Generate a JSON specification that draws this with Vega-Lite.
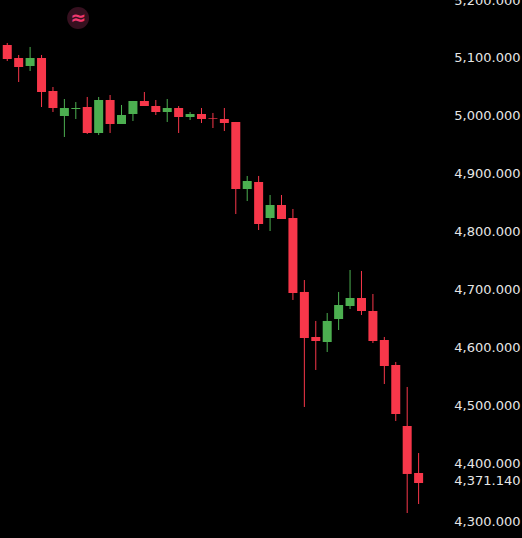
{
  "$schema": "https://vega.github.io/schema/vega-lite/v6.json",
  "width": 522,
  "height": 538,
  "padding": 0,
  "autosize": "none",
  "background": "#000000",
  "title": {
    "text": "GOLD",
    "anchor": "start",
    "frame": "group",
    "orient": "top",
    "offset": 0,
    "dx": 4,
    "dy": 26,
    "baseline": "alphabetic",
    "font": "Roboto",
    "fontSize": 20,
    "fontWeight": 500,
    "color": "#ffffff"
  },
  "datasets": {
    "candles": [
      {"i": 0, "open": 5122.4, "close": 5098.3, "high": 5125.9, "low": 5094.8, "dir": "down"},
      {"i": 1, "open": 5100, "close": 5084.5, "high": 5105.2, "low": 5058.6, "dir": "down"},
      {"i": 2, "open": 5086.2, "close": 5100, "high": 5119, "low": 5077.6, "dir": "up"},
      {"i": 3, "open": 5100, "close": 5041.4, "high": 5105.2, "low": 5015.5, "dir": "down"},
      {"i": 4, "open": 5043.1, "close": 5013.8, "high": 5050, "low": 5006.9, "dir": "down"},
      {"i": 5, "open": 5000, "close": 5013.8, "high": 5029.3, "low": 4963.8, "dir": "up"},
      {"i": 6, "open": 5012.1, "close": 5013.8, "high": 5024.1, "low": 4994.8, "dir": "up"},
      {"i": 7, "open": 5015.5, "close": 4970.7, "high": 5032.8, "low": 4969, "dir": "down"},
      {"i": 8, "open": 4970.7, "close": 5027.6, "high": 5032.8, "low": 4967.2, "dir": "up"},
      {"i": 9, "open": 5027.6, "close": 4986.2, "high": 5036.2, "low": 4970.7, "dir": "down"},
      {"i": 10, "open": 4986.2, "close": 5001.7, "high": 5019, "low": 4986.2, "dir": "up"},
      {"i": 11, "open": 5003.4, "close": 5025.9, "high": 5025.9, "low": 4991.4, "dir": "up"},
      {"i": 12, "open": 5025.9, "close": 5017.2, "high": 5041.4, "low": 5017.2, "dir": "down"},
      {"i": 13, "open": 5017.2, "close": 5006.9, "high": 5027.6, "low": 5001.7, "dir": "down"},
      {"i": 14, "open": 5006.9, "close": 5013.8, "high": 5029.3, "low": 4989.7, "dir": "up"},
      {"i": 15, "open": 5013.8, "close": 4998.3, "high": 5017.2, "low": 4970.7, "dir": "down"},
      {"i": 16, "open": 4998.3, "close": 5003.4, "high": 5006.9, "low": 4993.1, "dir": "up"},
      {"i": 17, "open": 5003.4, "close": 4994.8, "high": 5013.8, "low": 4987.9, "dir": "down"},
      {"i": 18, "open": 4996.6, "close": 4995.4, "high": 5005.2, "low": 4979.3, "dir": "down"},
      {"i": 19, "open": 4994.8, "close": 4987.9, "high": 5013.8, "low": 4974.1, "dir": "down"},
      {"i": 20, "open": 4989.7, "close": 4874.1, "high": 4989.7, "low": 4831, "dir": "down"},
      {"i": 21, "open": 4874.1, "close": 4887.9, "high": 4896.6, "low": 4853.4, "dir": "up"},
      {"i": 22, "open": 4886.2, "close": 4813.8, "high": 4896.6, "low": 4803.4, "dir": "down"},
      {"i": 23, "open": 4824.1, "close": 4846.6, "high": 4863.8, "low": 4801.7, "dir": "up"},
      {"i": 24, "open": 4846.6, "close": 4822.4, "high": 4863.8, "low": 4822.4, "dir": "down"},
      {"i": 25, "open": 4824.1, "close": 4694.8, "high": 4839.7, "low": 4682.8, "dir": "down"},
      {"i": 26, "open": 4696.6, "close": 4617.2, "high": 4717.2, "low": 4498.3, "dir": "down"},
      {"i": 27, "open": 4619, "close": 4612.1, "high": 4646.6, "low": 4562.1, "dir": "down"},
      {"i": 28, "open": 4610.3, "close": 4646.6, "high": 4660.3, "low": 4593.1, "dir": "up"},
      {"i": 29, "open": 4650, "close": 4674.1, "high": 4696.6, "low": 4631, "dir": "up"},
      {"i": 30, "open": 4672.4, "close": 4686.2, "high": 4734.5, "low": 4667.2, "dir": "up"},
      {"i": 31, "open": 4686.2, "close": 4663.8, "high": 4732.8, "low": 4656.9, "dir": "down"},
      {"i": 32, "open": 4663.8, "close": 4612.1, "high": 4693.1, "low": 4608.6, "dir": "down"},
      {"i": 33, "open": 4613.8, "close": 4569, "high": 4619, "low": 4537.9, "dir": "down"},
      {"i": 34, "open": 4570.7, "close": 4486.2, "high": 4575.9, "low": 4474.1, "dir": "down"},
      {"i": 35, "open": 4465.5, "close": 4382.8, "high": 4532.8, "low": 4315.5, "dir": "down"},
      {"i": 36, "open": 4384.5, "close": 4367.2, "high": 4418.9, "low": 4331, "dir": "down"}
    ],
    "badge": [{"i": 6.2, "price": 5169, "glyph": "≈"}]
  },
  "encoding": {
    "x": {
      "field": "i",
      "type": "quantitative",
      "scale": {"domain": [-0.197, 44.61], "nice": false, "zero": false},
      "axis": null
    }
  },
  "layer": [
    {
      "data": {"name": "candles"},
      "mark": {"type": "rule", "strokeWidth": 1},
      "encoding": {
        "y": {
          "field": "low",
          "type": "quantitative",
          "scale": {"domain": [4272.4, 5200], "nice": false, "zero": false},
          "axis": {
            "orient": "right",
            "title": null,
            "values": [5200, 5100, 5000, 4900, 4800, 4700, 4600, 4500, 4400, 4371.14, 4300],
            "format": ",.3f",
            "domain": false,
            "ticks": false,
            "grid": false,
            "labelAlign": "right",
            "labelPadding": -2,
            "labelOverlap": false,
            "labelBound": false,
            "labelFlush": false,
            "labelFont": "DejaVu Sans",
            "labelFontSize": 13,
            "labelColor": "#e6e6e6"
          }
        },
        "y2": {"field": "high"},
        "color": {
          "field": "dir",
          "type": "nominal",
          "scale": {"domain": ["up", "down"], "range": ["#4caf50", "#f7374a"]},
          "legend": null
        }
      }
    },
    {
      "data": {"name": "candles"},
      "mark": {"type": "bar", "size": 9, "orient": "vertical"},
      "encoding": {
        "y": {"field": "open", "type": "quantitative"},
        "y2": {"field": "close"},
        "color": {"field": "dir", "type": "nominal"}
      }
    },
    {
      "data": {"name": "badge"},
      "mark": {"type": "point", "filled": true, "size": 480, "opacity": 1, "color": "#36101f"},
      "encoding": {"y": {"field": "price", "type": "quantitative"}}
    },
    {
      "data": {"name": "badge"},
      "mark": {"type": "text", "font": "DejaVu Sans", "fontSize": 19, "fontWeight": "bold", "color": "#f2386f", "baseline": "middle"},
      "encoding": {
        "y": {"field": "price", "type": "quantitative"},
        "text": {"field": "glyph"}
      }
    }
  ],
  "config": {"view": {"stroke": null}}
}
